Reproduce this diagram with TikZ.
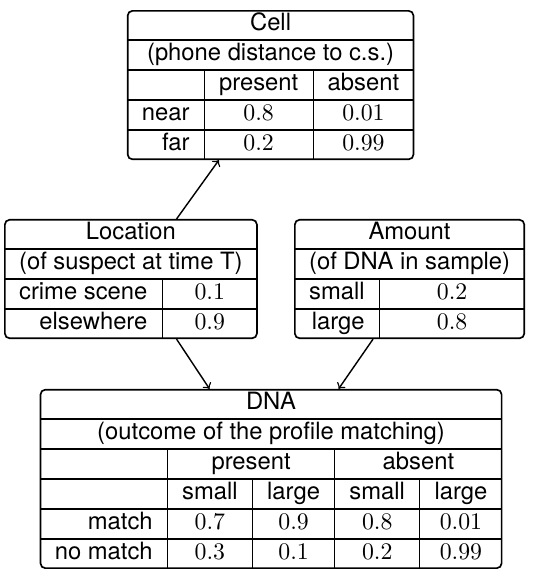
\documentclass[tikz,border=0pt]{standalone}
\usepackage{fontspec}
\setsansfont{TeX Gyre Heros}
\usepackage{array}
\usetikzlibrary{calc}
\newcommand{\rowrule}{\noalign{\hrule height 0.6pt}}
\tikzset{
  cpt/.style={draw, rounded corners=2pt, line width=0.7pt, inner sep=0pt,
    anchor=north, font=\sffamily},
  arrow/.style={->, line width=0.6pt}
}

\begin{document}
\begin{tikzpicture}
  \useasboundingbox (0,0) rectangle (224.4pt,-239.1pt);
  \node[cpt] (cell) at (113.7pt,-4.2pt) {%
    \begin{tabular}{r|c|c}
      \multicolumn{3}{c}{Cell}\\ \rowrule
      \multicolumn{3}{c}{(phone distance to c.s.)}\\ \rowrule
      & present & absent\\ \rowrule
      near & $0.8$ & $0.01$\\ \rowrule
      far & $0.2$ & $0.99$
    \end{tabular}};
  \node[cpt] (loc) at (55.0pt,-92.0pt) {%
    \begin{tabular}{r|c}
      \multicolumn{2}{c}{Location}\\ \rowrule
      \multicolumn{2}{c}{(of suspect at time T)}\\ \rowrule
      crime scene & $0.1$\\ \rowrule
      elsewhere & $0.9$
    \end{tabular}};
  \node[cpt] (amount) at (172.1pt,-92.0pt) {%
    \begin{tabular}{r|c}
      \multicolumn{2}{c}{Amount}\\ \rowrule
      \multicolumn{2}{c}{(of DNA in sample)}\\ \rowrule
      small & $0.2$\\ \rowrule
      large & $0.8$
    \end{tabular}};
  \node[cpt] (dna) at (113.9pt,-163.4pt) {%
    \begin{tabular}{r|c|c|c|c}
      \multicolumn{5}{c}{DNA}\\ \rowrule
      \multicolumn{5}{c}{(outcome of the profile matching)}\\ \rowrule
      & \multicolumn{2}{c|}{present} & \multicolumn{2}{c}{absent}\\ \rowrule
      & small & large & small & large\\ \rowrule
      match & $0.7$ & $0.9$ & $0.8$ & $0.01$\\ \rowrule
      no match & $0.3$ & $0.1$ & $0.2$ & $0.99$
    \end{tabular}};
  % dependencies
  \draw[arrow] ($(loc.north west)!0.68!(loc.north east)$)
    -- ($(cell.south west)!0.32!(cell.south east)$);
  \draw[arrow] ($(loc.south west)!0.68!(loc.south east)$)
    -- ($(dna.north west)!0.367!(dna.north east)$);
  \draw[arrow] ($(amount.south west)!0.342!(amount.south east)$)
    -- ($(dna.north west)!0.646!(dna.north east)$);
\end{tikzpicture}
\end{document}
